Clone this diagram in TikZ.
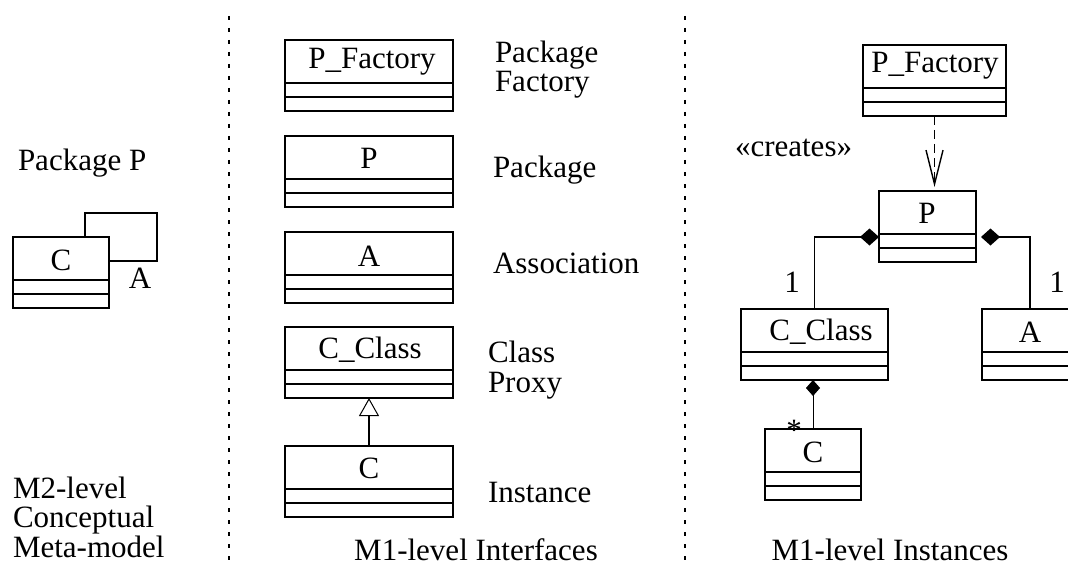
\documentclass[tikz,border=0pt]{standalone}
\usepackage{fontspec}
\setmainfont{Liberation Serif}
\usetikzlibrary{arrows.meta}

\begin{document}
\begin{tikzpicture}[x=1pt,y=-1pt,
  every node/.style={inner sep=0pt, outer sep=0pt, font=\fontsize{31}{29.5}\selectfont},
  classbox/.style={draw, line width=1.5pt, minimum height=71pt},
  divider/.style={line width=2pt, dash pattern=on 4pt off 8pt},
  assoc/.style={line width=1.5pt},
  gen/.style={line width=1.5pt, -{Triangle[open, length=18pt, width=20pt, line width=1pt]}},
  dep/.style={line width=1.8pt, dash pattern=on 9pt off 5pt, shorten >=4pt,
    -{Straight Barb[length=34pt, width=17pt, line width=1.4pt]}},
  compo/.style={line width=1.4pt, -{Diamond[length=19pt, width=17pt]}},
  compothin/.style={line width=0.8pt, -{Diamond[length=16pt, width=14pt]}}]
\useasboundingbox (0,0) rectangle (1068,567);
\clip (0,0) rectangle (1068,567);

% column dividers
\draw[divider] (229,16) -- (229,567);
\draw[divider] (685,16) -- (685,567);

% class boxes: name/left/top/right/text x/text baseline/text
\foreach \n/\xa/\ya/\xb/\tx/\ty/\txt in {
  lc/13/237/109/61/270/C,
  mpf/285/40/453/372/69/P\_Factory,
  mp/285/136/453/369/168/P,
  ma/285/232/453/369/266/A,
  mcc/285/327/453/370/358/C\_Class,
  mc/285/446/453/369/478/C,
  rpf/863/45/1006/935/73/P\_Factory,
  rp/879/191/976/927/223/P,
  rcc/741/309/888/821/340/C\_Class,
  rc/765/429/861/813/462/C,
  ra/982/309/1078/1030/342/A}{
  \node[classbox, minimum width={\xb-\xa}] (\n) at ({(\xa+\xb)/2},{\ya+35.5}) {};
  \node[anchor=base] (\n-name) at (\tx,\ty) {\txt};
  \draw[assoc] ([yshift=-43pt]\n.north west) -- ([yshift=-43pt]\n.north east);
  \draw[assoc] ([yshift=-57pt]\n.north west) -- ([yshift=-57pt]\n.north east);
}

% M2 level
\node[anchor=base west] (pkgp) at (18,171) {Package P};
\coordinate (selfc) at (157,213);
\draw[assoc] ([xshift=24pt]lc.north) |- (selfc) |- ([yshift=11.5pt]lc.east);
\node[anchor=base] (lassoc) at (140,288) {A};
\node[anchor=base west, align=left] (m2lbl) at (13,557) {M2-level\\Conceptual\\Meta-model};

% M1 interfaces
\draw[gen] (mc.north) -- (mcc.south);
\node[anchor=base west, align=left] (pflbl) at (495,92) {Package\\Factory};
\node[anchor=base west] (plbl) at (493,177) {Package};
\node[anchor=base west] (albl) at (493,273) {Association};
\node[anchor=base west, align=left] (cplbl) at (488,392) {Class\\Proxy};
\node[anchor=base west] (ilbl) at (488,502) {Instance};
\node[anchor=base] (m1ilbl) at (476,560) {M1-level Interfaces};

% M1 instances
\draw[dep] (rpf.south) -- (rpf.south |- rp.north);
\node[anchor=base west] (creates) at (735,157) {«creates»};
\draw[compo] (rcc.north) |- ([yshift=-10.5pt]rp.west);
\draw[compo] (ra.north) |- ([xshift=5pt,yshift=-10.5pt]rp.east);
\draw[compothin] (rc.north) -- (rc.north |- rcc.south);
\node[anchor=base] (mult1) at (792,292) {1};
\node[anchor=base] (mult2) at (1057,292) {1};
\node[anchor=base] (multstar) at (794,440) {*};
\node[anchor=base] (m1olbl) at (890,560) {M1-level Instances};
\end{tikzpicture}
\end{document}
